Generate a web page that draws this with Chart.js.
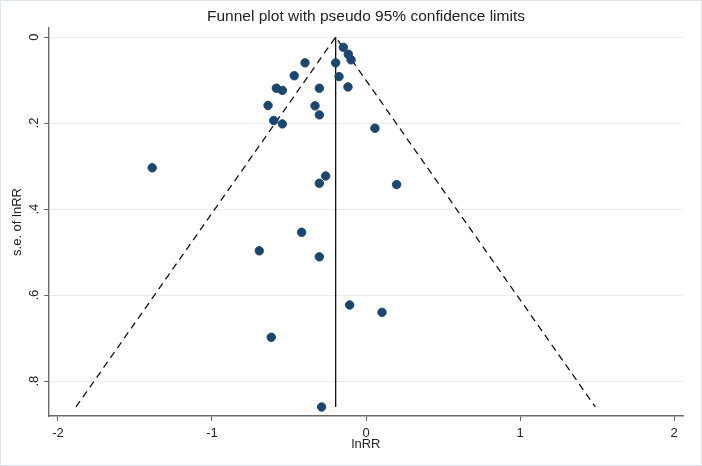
<!DOCTYPE html>
<html>
<head>
<meta charset="utf-8">
<script src="https://cdn.jsdelivr.net/npm/chart.js@4"></script>
<style>
  html, body { margin: 0; padding: 0; background: #fff; }
  #wrap { width: 702px; height: 466px; }
</style>
</head>
<body>
<div id="wrap"><canvas id="funnel" width="702" height="466"></canvas></div>
<script>
// study estimates
const lnRR = [-0.147, -0.115, -0.097, -0.197, -0.396, -0.175, -0.466, -0.117, -0.303, -0.582,
              -0.543, -0.636, -0.331, -0.303, -0.599, -0.543, 0.058, -1.388, -0.262, -0.303,
              0.199, -0.418, -0.693, -0.303, -0.106, 0.104, -0.615, -0.288];
const seLnRR = [0.024, 0.040, 0.053, 0.060, 0.060, 0.092, 0.090, 0.116, 0.119, 0.119,
                0.124, 0.159, 0.160, 0.181, 0.194, 0.202, 0.212, 0.304, 0.323, 0.340,
                0.343, 0.454, 0.497, 0.511, 0.623, 0.640, 0.698, 0.860];

// pooled estimate line and pseudo 95% limits
const pooledX = [-0.197, -0.197];
const pooledY = [0, 0.86];
const funnelX = [-1.883, -0.197, 1.489];
const funnelY = [0.86, 0, 0.86];

const xTicks = [-2, -1, 0, 1, 2];
const yTicks = [0, 0.2, 0.4, 0.6, 0.8];
const yTickLabels = ['0', '.2', '.4', '.6', '.8'];

const titleText = 'Funnel plot with pseudo 95% confidence limits';
const FONT = "'Liberation Sans', Arial, sans-serif";
const AXIS = '#6a6a6a';

const toXY = (xs, ys) => xs.map((x, i) => ({ x: x, y: ys[i] }));

const frame = {
  id: 'frame',
  beforeDraw(chart) {
    const ctx = chart.ctx;
    ctx.save();
    ctx.fillStyle = '#fff';
    ctx.fillRect(0, 0, chart.width, chart.height);
    ctx.strokeStyle = '#dbe5ea';
    ctx.lineWidth = 1;
    ctx.strokeRect(0.5, 0.5, chart.width - 1, chart.height - 1);
    ctx.restore();
  },
  afterDraw(chart) {
    const ctx = chart.ctx;
    const a = chart.chartArea;
    ctx.save();
    ctx.fillStyle = '#222';
    ctx.font = '15.5px ' + FONT;
    ctx.textAlign = 'center';
    ctx.textBaseline = 'middle';
    ctx.fillText(titleText, (a.left + a.right) / 2, 17);
    ctx.restore();
  }
};

new Chart(document.getElementById('funnel'), {
  type: 'scatter',
  data: {
    datasets: [
      {
        label: 'Studies',
        data: toXY(lnRR, seLnRR),
        backgroundColor: '#1a476f',
        borderColor: '#1a476f',
        pointRadius: 4.2,
        pointHoverRadius: 4.2
      },
      {
        label: 'Pooled',
        data: toXY(pooledX, pooledY),
        showLine: true,
        borderColor: '#111',
        borderWidth: 1.3,
        pointRadius: 0
      },
      {
        label: 'Pseudo 95% CI',
        data: toXY(funnelX, funnelY),
        showLine: true,
        borderColor: '#111',
        borderWidth: 1.3,
        borderDash: [7, 5],
        pointRadius: 0
      }
    ]
  },
  options: {
    responsive: false,
    animation: false,
    layout: { padding: { top: 28, right: 19, bottom: 0, left: 0 } },
    plugins: {
      legend: { display: false },
      tooltip: { enabled: false },
      title: { display: false }
    },
    scales: {
      x: {
        type: 'linear',
        min: -2.058,
        max: 2.058,
        afterBuildTicks: s => { s.ticks = xTicks.map(v => ({ value: v })); },
        afterFit: s => { s.height = 50; },
        border: { color: AXIS, width: 1.4 },
        grid: { display: true, drawOnChartArea: false, tickLength: 5, tickColor: AXIS },
        ticks: {
          color: '#222',
          font: { family: FONT, size: 13 },
          padding: 5,
          maxRotation: 0,
          callback: v => String(v)
        },
        title: {
          display: true,
          text: 'lnRR',
          color: '#222',
          font: { family: FONT, size: 13 },
          padding: { top: 0, bottom: 14 }
        }
      },
      y: {
        type: 'linear',
        reverse: true,
        min: -0.021,
        max: 0.881,
        afterBuildTicks: s => { s.ticks = yTicks.map(v => ({ value: v })); },
        afterFit: s => { s.width = 49; },
        border: { color: AXIS, width: 1.4 },
        grid: { color: '#e3eef0', lineWidth: 1, tickLength: 5, tickColor: AXIS },
        ticks: {
          color: '#222',
          font: { family: FONT, size: 13 },
          padding: 4,
          minRotation: 90,
          maxRotation: 90,
          crossAlign: 'center',
          callback: v => yTickLabels[yTicks.indexOf(Math.round(v * 10) / 10)]
        },
        title: {
          display: true,
          text: 's.e. of lnRR',
          color: '#222',
          font: { family: FONT, size: 13 },
          padding: { top: 10, bottom: 0 }
        }
      }
    }
  },
  plugins: [frame]
});
</script>
</body>
</html>
